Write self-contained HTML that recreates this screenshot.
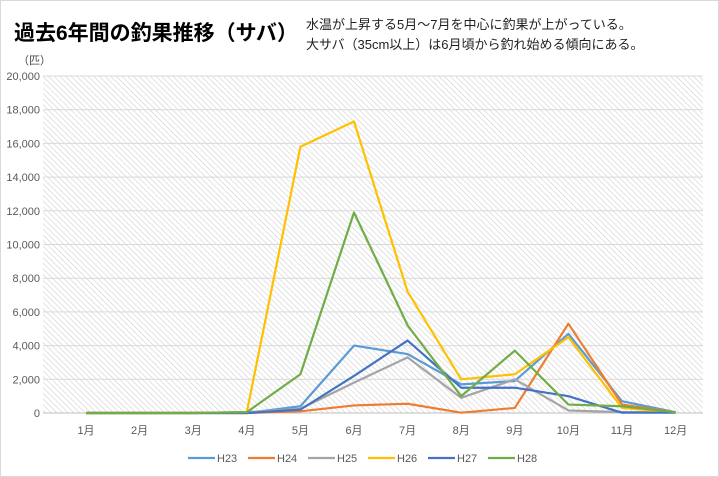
<!DOCTYPE html>
<html><head><meta charset="utf-8"><style>
body{margin:0;background:#fff;font-family:"Liberation Sans","Noto Sans CJK JP",sans-serif;}
#wrap{position:relative;width:719px;height:477px;overflow:hidden;}
</style></head><body>
<div id="wrap">
<svg id="chart" width="719" height="477" xmlns="http://www.w3.org/2000/svg">
<defs><pattern id="hatch" width="4" height="4" patternUnits="userSpaceOnUse" patternTransform="rotate(-45)"><rect width="4" height="4" fill="#fff"/><line x1="0" y1="0" x2="0" y2="4" stroke="#d0d0d0" stroke-width="1.2"/></pattern></defs>
<rect x="0.5" y="0.5" width="718" height="476" fill="#fff" stroke="#d9d9d9"/>
<text x="14" y="40" font-size="21" font-weight="bold" fill="#000" font-family="Liberation Sans,Noto Sans CJK JP,sans-serif">過去6年間の釣果推移（サバ）</text>
<text x="306" y="29" font-size="13" fill="#222" font-family="Liberation Sans,Noto Sans CJK JP,sans-serif">水温が上昇する5月～7月を中心に釣果が上がっている。</text>
<text x="306" y="49" font-size="13" fill="#222" font-family="Liberation Sans,Noto Sans CJK JP,sans-serif">大サバ（35cm以上）は6月頃から釣れ始める傾向にある。</text>
<text x="18" y="64" font-size="11" fill="#444" font-family="Liberation Sans,Noto Sans CJK JP,sans-serif">（匹）</text>
<rect x="43" y="76" width="660" height="337" fill="url(#hatch)"/>
<g id="grid"></g><g id="series"></g><g id="labels"></g><g id="legend"></g>
</svg>
</div>
<script>
const categories=["1月","2月","3月","4月","5月","6月","7月","8月","9月","10月","11月","12月"];
const yTicks=[0,2000,4000,6000,8000,10000,12000,14000,16000,18000,20000];
const seriesNames=["H23","H24","H25","H26","H27","H28"];
const seriesColors=["#5B9BD5","#ED7D31","#A5A5A5","#FFC000","#4472C4","#70AD47"];
const H23=[0,0,0,0,400,4000,3500,1700,1900,4700,700,50];
const H24=[0,0,0,0,100,450,550,20,300,5300,500,50];
const H25=[0,0,0,50,250,1800,3300,900,2000,150,50,50];
const H26=[0,0,0,50,15800,17300,7200,2000,2300,4500,300,50];
const H27=[0,0,0,0,200,2200,4300,1500,1500,1000,20,20];
const H28=[0,0,0,50,2300,11900,5200,1000,3700,500,400,50];
const seriesData=[H23,H24,H25,H26,H27,H28];
const NS="http://www.w3.org/2000/svg";
const x=i=>86+i*53.6;
const y=v=>413-v/20000*337;
function mk(t,a,p){const e=document.createElementNS(NS,t);for(const k in a)e.setAttribute(k,a[k]);p.appendChild(e);return e;}
const grid=document.getElementById('grid'),labels=document.getElementById('labels'),ser=document.getElementById('series'),leg=document.getElementById('legend');
yTicks.forEach(v=>{
 const l=mk('line',{x1:43,x2:703,y1:y(v),y2:y(v),stroke:v===0?'#bfbfbf':'#d9d9d9','stroke-width':1},grid);
 
 
 const t=mk('text',{x:40,y:y(v)+4,'font-size':11,fill:'#595959','text-anchor':'end'},labels);
 t.textContent=v.toLocaleString('en-US');
 
 
});
categories.forEach((c,i)=>{
 const t=mk('text',{x:x(i),y:434,'font-size':11,fill:'#595959','text-anchor':'middle','font-family':'Liberation Sans,Noto Sans CJK JP,sans-serif'},labels);
 t.textContent=c;
 
 
});
seriesData.forEach((d,s)=>{
 const p=mk('polyline',{points:d.map((v,i)=>x(i)+','+y(v)).join(' '),fill:'none',stroke:seriesColors[s],'stroke-width':2.2,'stroke-linejoin':'round'},ser);
 
 
});
seriesNames.forEach((n,s)=>{
 const lx=188+s*60;
 const g=mk('g',{},leg);
 
 
 mk('line',{x1:lx,x2:lx+27,y1:458,y2:458,stroke:seriesColors[s],'stroke-width':2.2},g);
 const t=mk('text',{x:lx+29,y:462,'font-size':11,fill:'#595959'},g);
 t.textContent=n;
});
</script>
</body></html>
